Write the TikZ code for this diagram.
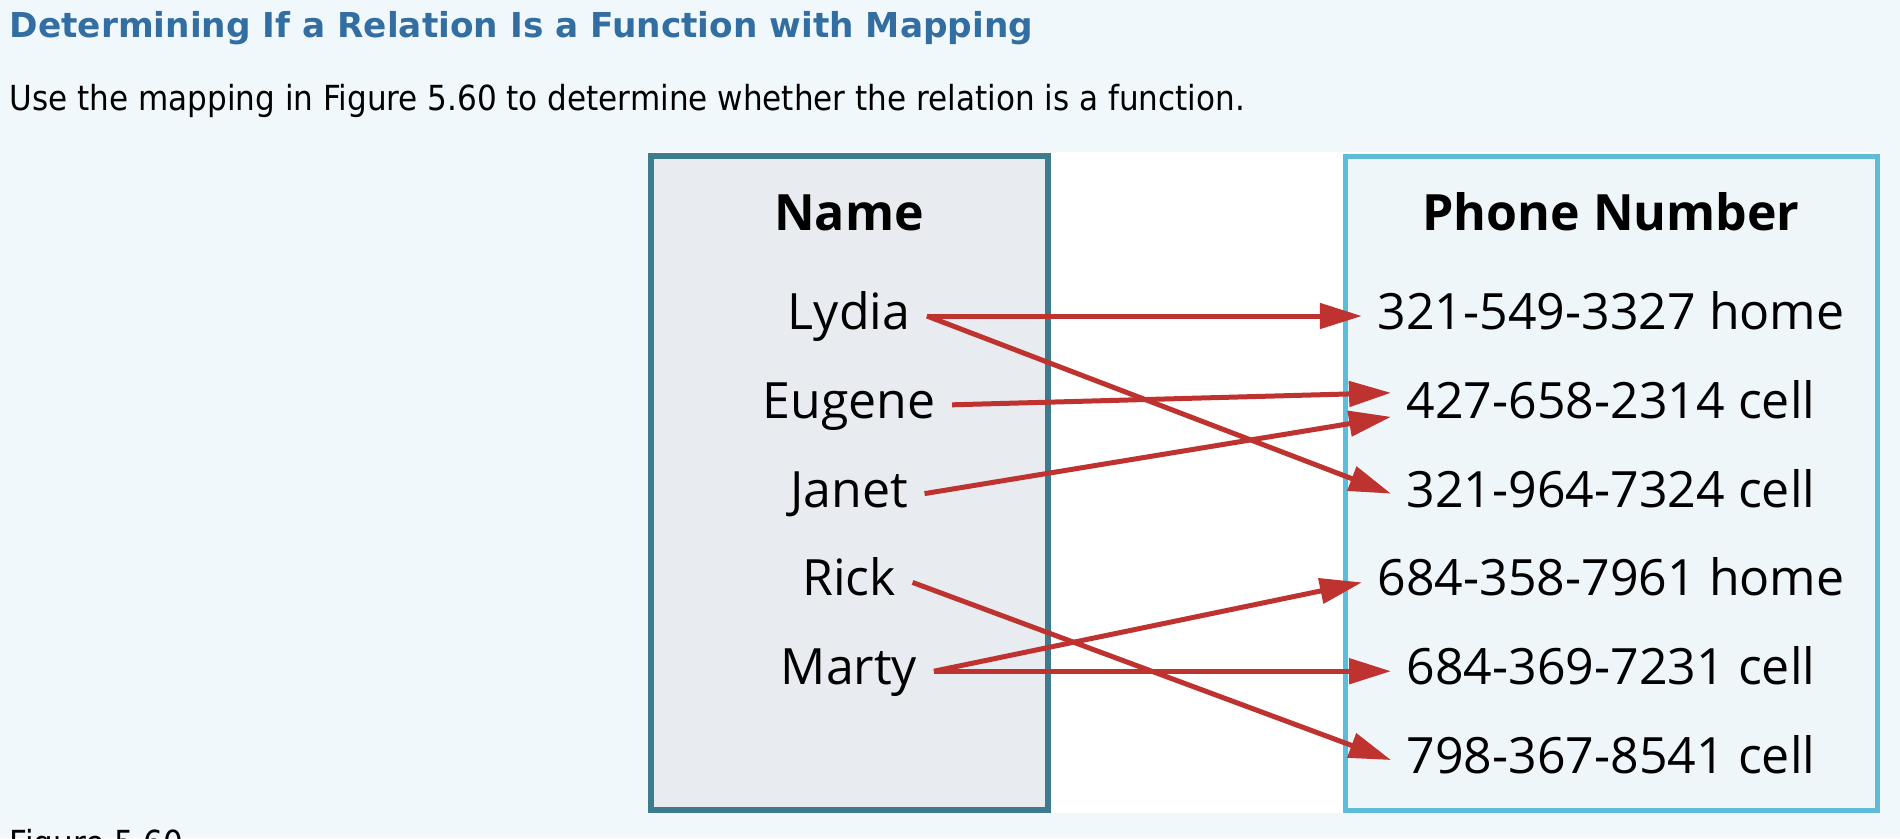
\documentclass[tikz,border=0pt]{standalone}
\usepackage{fontspec}
\setmainfont{Open Sans}
\newfontfamily\headfont{DejaVu Sans}
\newfontfamily\introfont{DejaVu Sans Condensed}
\usepackage{tikz}
\usetikzlibrary{arrows.meta}
\usepackage{xcolor}
\definecolor{pagecolor}{RGB}{240,248,251}
\definecolor{titlecolor}{RGB}{50,110,162}
\definecolor{namefill}{RGB}{232,236,240}
\definecolor{nameedge}{RGB}{60,124,142}
\definecolor{phonefill}{RGB}{238,246,250}
\definecolor{phoneedge}{RGB}{95,188,216}
\definecolor{mapcolor}{RGB}{190,50,47}

\begin{document}
\begin{tikzpicture}[
    x=0.01cm, y=-0.01cm,
    intro/.style={anchor=base west, inner sep=0pt, font=\introfont\fontsize{9.82}{12}\selectfont},
    header/.style={anchor=base, inner sep=0pt, font=\fontsize{14.23}{17}\selectfont\bfseries},
    person/.style={font=\fontsize{14.23}{17}\selectfont, text height=11.1pt, text depth=3.4pt, inner xsep=0.16cm, inner ysep=0pt},
    phone/.style={font=\fontsize{14.23}{17}\selectfont, text height=11.1pt, text depth=3.4pt, inner xsep=0.15cm, inner ysep=0pt},
    arrow/.style={-{Triangle[length=0.42cm, width=0.25cm]}, line width=1.42pt, draw=mapcolor}
]
\fill[pagecolor] (0,0) rectangle (1900,838);
\clip (0,0) rectangle (1900,838);

% page text
\node[anchor=base west, inner sep=0pt, text=titlecolor, font=\headfont\bfseries\fontsize{9.76}{12}\selectfont] (title) at (9,37) {Determining If a Relation Is a Function with Mapping};
\node[intro] (task) at (9,110) {Use the mapping in Figure 5.60 to determine whether the relation is a function.};
\node[intro] (caption) at (9,855) {Figure 5.60};

% the two sets
\fill[white] (648,152) rectangle (1880,813);
\draw[line width=1.7pt, draw=nameedge, fill=namefill] (651,156) rectangle (1048,810);
\draw[line width=1.42pt, draw=phoneedge, fill=phonefill] (1345,156) rectangle (1877,810);

\node[header] (namehead) at (849,230) {Name};
\node[header] (phonehead) at (1611,230) {Phone Number};

\node[person] (lydia) at (849,316) {Lydia};
\node[person] (eugene) at (849,404.8) {Eugene};
\node[person] (janet) at (849,493.6) {Janet};
\node[person] (rick) at (849,582.4) {Rick};
\node[person] (marty) at (849,671.2) {Marty};

\node[phone] (home1) at (1611,316) {321-549-3327 home};
\node[phone] (cell1) at (1611,404.8) {427-658-2314 cell};
\node[phone] (cell2) at (1611,493.6) {321-964-7324 cell};
\node[phone] (home2) at (1611,582.4) {684-358-7961 home};
\node[phone] (cell3) at (1611,671.2) {684-369-7231 cell};
\node[phone] (cell4) at (1611,760) {798-367-8541 cell};

% mapping
\draw[arrow] (lydia.east) -- (home1.west);
\draw[arrow] (lydia.east) -- (cell2.west);
\draw[arrow] (eugene.east) -- ([yshift=0.12cm]cell1.west);
\draw[arrow] (janet.east) -- ([yshift=-0.12cm]cell1.west);
\draw[arrow] (rick.east) -- (cell4.west);
\draw[arrow] (marty.east) -- (home2.west);
\draw[arrow] (marty.east) -- (cell3.west);
\end{tikzpicture}
\end{document}
